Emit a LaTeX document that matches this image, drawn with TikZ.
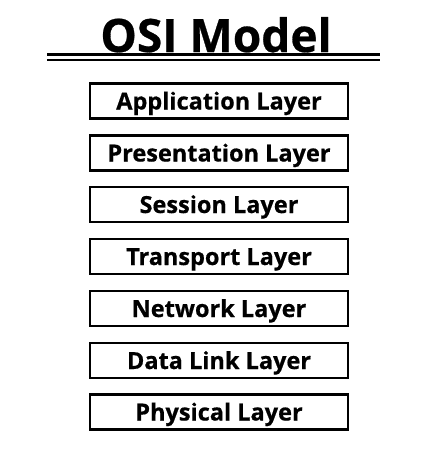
\documentclass[tikz,border=0pt]{standalone}
\usepackage{fontspec}
\setmainfont{Open Sans}[BoldFont={* Bold}, BoldFeatures={FakeBold=0.6}]
\begin{document}
\begin{tikzpicture}[x=1pt,y=-1pt,
  layerbox/.style={draw=black, line width=2.4pt, minimum width=258pt, minimum height=35pt, inner sep=0pt, text height=17pt, text depth=0pt, font=\bfseries\fontsize{23.5}{23.5}\selectfont},
  rule/.style={line width=2.6pt}]
\useasboundingbox[fill=white] (0,0) rectangle (425,450);
\node[anchor=base, font=\bfseries\fontsize{46}{46}\selectfont, inner sep=0pt] (title) at (216,52) {OSI Model};
\coordinate (l1a) at (47,54.5); \coordinate (l1b) at (380,54.5);
\coordinate (l2a) at (47,60); \coordinate (l2b) at (380,60);
\draw[rule] (l1a) -- (l1b);
\draw[rule] (l2a) -- (l2b);
\node[layerbox] (app) at (219,101) {Application Layer};
\node[layerbox] (pres) at (219,153) {Presentation Layer};
\node[layerbox] (sess) at (219,204.5) {Session Layer};
\node[layerbox] (trans) at (219,256.5) {Transport Layer};
\node[layerbox] (net) at (219,308.5) {Network Layer};
\node[layerbox] (dl) at (219,360.5) {Data Link Layer};
\node[layerbox] (phys) at (219,412) {Physical Layer};
\end{tikzpicture}
\end{document}
